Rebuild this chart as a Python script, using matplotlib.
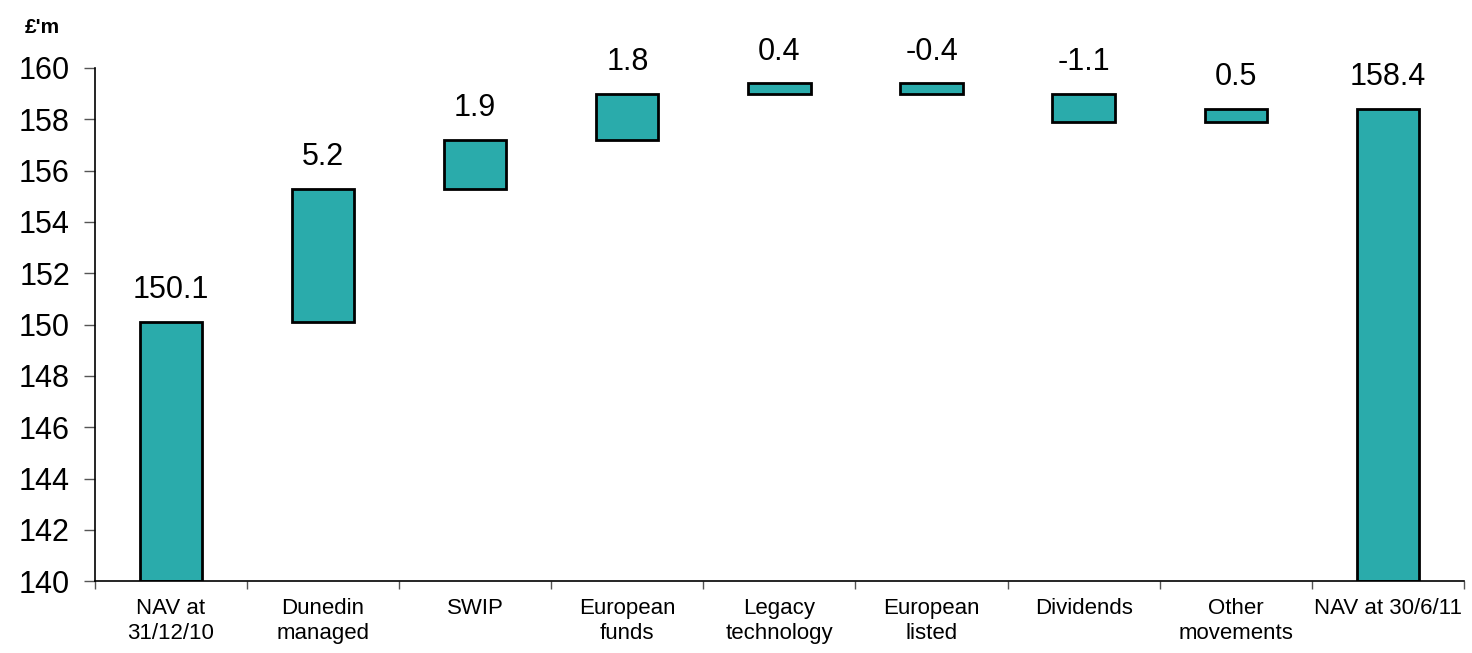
import numpy as np
import matplotlib.pyplot as plt

plt.rcParams["font.family"] = ["Liberation Sans", "DejaVu Sans"]

# NAV bridge data (£m)
categories = ["NAV at\n31/12/10", "Dunedin\nmanaged", "SWIP", "European\nfunds",
              "Legacy\ntechnology", "European\nlisted", "Dividends", "Other\nmovements",
              "NAV at 30/6/11"]
start_nav = 150.1
movements = [5.2, 1.9, 1.8, 0.4, -0.4, -1.1, 0.5]
end_nav = 158.4
TEAL = "#2aabab"

# Build floating bars
bottoms, heights, labels = [140], [start_nav - 140], [start_nav]
level = start_nav
for m in movements:
    lo, hi = sorted([level, level + m])
    bottoms.append(lo)
    heights.append(hi - lo)
    labels.append(m)
    level += m
bottoms.append(140)
heights.append(end_nav - 140)
labels.append(end_nav)

fig = plt.figure(figsize=(14.72, 6.53), dpi=100)
ax = fig.add_axes([0.0645, 0.110, 0.930, 0.786])
xs = np.arange(len(categories))
ax.bar(xs, heights, bottom=bottoms, width=0.41, color=TEAL, edgecolor="black", linewidth=2)

for x, b, h, lab in zip(xs, bottoms, heights, labels):
    ax.annotate(f"{lab:.1f}", (x, b + h), xytext=(0, 12), textcoords="offset points",
                ha="center", va="bottom", fontsize=22)

ax.set_xlim(-0.5, len(categories) - 0.5)
ax.set_ylim(140, 160)
ax.set_yticks(np.arange(140, 161, 2))
ax.tick_params(axis="y", labelsize=22, length=8, width=1, color="#555555", pad=10)
ax.set_xticks(xs)
ax.set_xticklabels(categories, fontsize=16, linespacing=1.25)
ax.set_xticks(np.arange(-0.5, len(categories), 1), minor=True)
ax.tick_params(axis="x", which="major", length=0, pad=12)
ax.tick_params(axis="x", which="minor", length=6, width=1, color="#555555")
for s in ["top", "right"]:
    ax.spines[s].set_visible(False)
ax.spines["left"].set_linewidth(1.2)
ax.spines["bottom"].set_linewidth(1.2)

fig.text(0.029, 0.958, "£'m", fontsize=15, fontweight="bold", ha="center", va="center")

fig.savefig("out.png", dpi=100)
